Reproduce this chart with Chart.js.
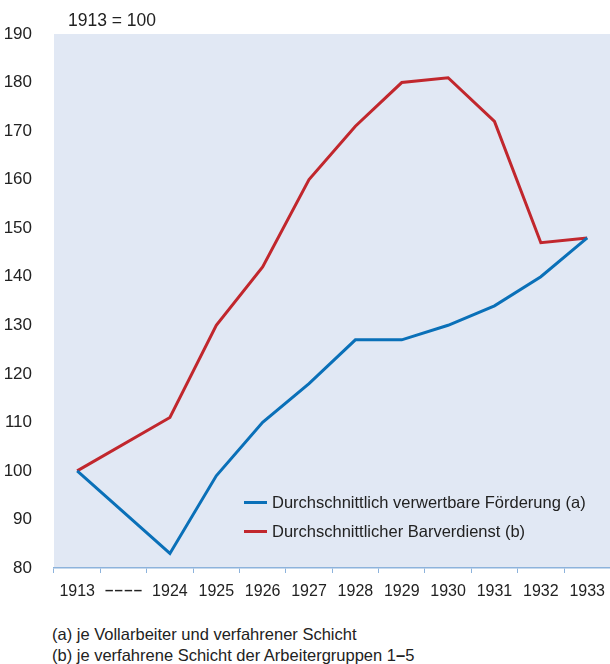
<!DOCTYPE html>
<html>
<head>
<meta charset="utf-8">
<script src="https://cdn.jsdelivr.net/npm/chart.js@4/dist/chart.umd.min.js"></script>
<style>
  html, body { margin: 0; padding: 0; width: 610px; height: 664px; overflow: hidden; background: #fff; }
  body { position: relative; font-family: "Liberation Sans", Arial, sans-serif; color: #222; }
  #wrap { position: absolute; left: 0; top: 0; width: 614px; height: 610px; }
  .note { position: absolute; font-size: 16.5px; white-space: nowrap; }
  .legend { position: absolute; left: 244px; font-size: 16.5px; white-space: nowrap; }
  .legend span.sw { display: inline-block; width: 23px; height: 3px; vertical-align: middle; margin-right: 5px; position: relative; top: -1px; }
</style>
</head>
<body>
<div id="wrap"><canvas id="chart" width="614" height="610"></canvas></div>
<div class="note" style="left:68px; top:10px; font-size:17.5px;">1913 = 100</div>
<div class="legend" style="top:493px;"><span class="sw" style="background:#0a70b8"></span>Durchschnittlich verwertbare Förderung (a)</div>
<div class="legend" style="top:522px;"><span class="sw" style="background:#c1272d"></span>Durchschnittlicher Barverdienst (b)</div>
<div class="note" style="left:52px; top:625px;">(a) je Vollarbeiter und verfahrener Schicht</div>
<div class="note" style="left:52px; top:646px;">(b) je verfahrene Schicht der Arbeitergruppen 1<b>–</b>5</div>
<script>
// --- Data ---
const years = ['1913', '–\u200A–\u200A–\u200A–', '1924', '1925', '1926', '1927', '1928', '1929', '1930', '1931', '1932', '1933'];
const foerderung = [100, null, 83, 99, 110, 118, 127, 127, 130, 134, 140, 148];
const barverdienst = [100, null, 111, 130, 142, 160, 171, 180, 181, 172, 147, 148];
const yTicks = [80, 90, 100, 110, 120, 130, 140, 150, 160, 170, 180, 190];

// plot background fill
const plotBg = {
  id: 'plotBg',
  beforeDraw(chart) {
    const { ctx, chartArea: a } = chart;
    ctx.save();
    ctx.fillStyle = '#e1e8f4';
    ctx.fillRect(a.left, a.top, a.right - a.left, a.bottom - a.top);
    ctx.restore();
  }
};

const family = '"Liberation Sans", Arial, sans-serif';

new Chart(document.getElementById('chart').getContext('2d'), {
  type: 'line',
  data: {
    labels: years,
    datasets: [
      { label: 'Durchschnittlich verwertbare Förderung (a)', data: foerderung, borderColor: '#0a70b8', borderWidth: 3, pointRadius: 0, spanGaps: true, tension: 0 },
      { label: 'Durchschnittlicher Barverdienst (b)', data: barverdienst, borderColor: '#c1272d', borderWidth: 3, pointRadius: 0, spanGaps: true, tension: 0 }
    ]
  },
  options: {
    responsive: false,
    animation: false,
    layout: { padding: { top: 34, right: 0, left: 0, bottom: 0 } },
    plugins: { legend: { display: false }, tooltip: { enabled: false } },
    scales: {
      x: {
        offset: true,
        grid: { offset: true, drawOnChartArea: false, drawTicks: true, tickLength: 5, color: '#8db3dc' },
        border: { display: true, color: '#8db3dc', width: 1.5 },
        ticks: {
          font: ctx => ctx.index === 1 ? { family: family, size: 15, weight: 'bold' } : { family: family, size: 16 },
          color: '#222', padding: 9, maxRotation: 0, autoSkip: false
        },
        afterFit(scale) { scale.height = 42; }
      },
      y: {
        min: 80, max: 190,
        afterBuildTicks(scale) { scale.ticks = yTicks.map(v => ({ value: v })); },
        grid: { display: false },
        border: { display: false },
        ticks: { font: { family: family, size: 17 }, color: '#222', padding: 14 },
        afterFit(scale) { scale.width = 54; }
      }
    }
  },
  plugins: [plotBg]
});
</script>
</body>
</html>
